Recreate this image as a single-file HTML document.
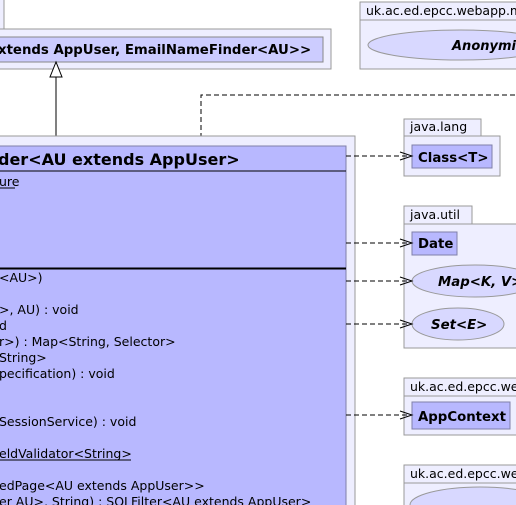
<!DOCTYPE html>
<html><head><style>body{margin:0;background:#fff}svg{display:block}</style></head><body>
<svg width="516" height="505" xmlns="http://www.w3.org/2000/svg" font-family="DejaVu Sans, Liberation Sans, sans-serif">
<rect x="-5" y="-5" width="9" height="34" fill="#eeeeff" stroke="#999"/>
<rect x="-5" y="29" width="336" height="40" fill="#eeeeff" stroke="#999"/>
<rect x="-5" y="37" width="328" height="25" fill="#ccccff" stroke="#888"/>
<text x="-2" y="54" font-size="13.3" font-weight="bold" fill="#000">xtends AppUser, EmailNameFinder&lt;AU&gt;&gt;</text>
<line x1="56" y1="77" x2="56" y2="146" stroke="#000"/>
<polygon points="56,62 50,77 62,77" fill="#fff" stroke="#000"/>
<polyline points="201,146 201,95 516,95" fill="none" stroke="#000" stroke-dasharray="5,3"/>
<rect x="-5" y="136" width="360" height="375" fill="#eeeeff" stroke="#999"/>
<rect x="-5" y="146" width="351" height="365" fill="#b8b8ff" stroke="#8080a8"/>
<text x="-2" y="165" font-size="16" font-weight="bold">der&lt;AU extends AppUser&gt;</text>
<line x1="-5" y1="171" x2="346" y2="171" stroke="#000"/>
<text x="-1" y="186" font-size="12.5">ure</text>
<line x1="-1" y1="188" x2="15" y2="188" stroke="#000"/>
<line x1="-5" y1="268.5" x2="346" y2="268.5" stroke="#000" stroke-width="2"/>
<g font-size="12.5" fill="#000">
<text x="-1" y="282">&lt;AU&gt;)</text>
<text x="-1" y="314">&gt;, AU) : void</text>
<text x="-1" y="330">d</text>
<text x="-1" y="346">r&gt;) : Map&lt;String, Selector&gt;</text>
<text x="-1" y="362">String&gt;</text>
<text x="-1" y="378">pecification) : void</text>
<text x="-1" y="426">SessionService) : void</text>
<text x="-1" y="458">eldValidator&lt;String&gt;</text>
<text x="-1" y="490">edPage&lt;AU extends AppUser&gt;&gt;</text>
<text x="-1" y="506">er AU&gt;, String) : SQLFilter&lt;AU extends AppUser&gt;</text>
</g>
<line x1="-1" y1="460" x2="131" y2="460" stroke="#000"/>
<rect x="360" y="2" width="170" height="18" fill="#eeeeff" stroke="#999"/>
<rect x="360" y="20" width="170" height="49" fill="#eeeeff" stroke="#999"/>
<text x="366" y="15" font-size="12.5">uk.ac.ed.epcc.webapp.m</text>
<ellipse cx="460" cy="45" rx="92" ry="15" fill="#d8d8ff" stroke="#999"/>
<text x="452" y="50" font-size="13" font-weight="bold" font-style="italic">Anonymi</text>
<rect x="404" y="119" width="77" height="17" fill="#eeeeff" stroke="#999"/>
<rect x="404" y="136" width="96" height="40" fill="#eeeeff" stroke="#999"/>
<text x="410" y="131" font-size="12.5">java.lang</text>
<rect x="412" y="145" width="80" height="23" fill="#b8b8ff" stroke="#8080a8"/>
<text x="418" y="162" font-size="13.3" font-weight="bold">Class&lt;T&gt;</text>
<rect x="404" y="206" width="68" height="18" fill="#eeeeff" stroke="#999"/>
<rect x="404" y="224" width="130" height="124" fill="#eeeeff" stroke="#999"/>
<text x="410" y="219" font-size="12.5">java.util</text>
<rect x="412" y="232" width="45" height="23" fill="#b8b8ff" stroke="#8080a8"/>
<text x="418" y="248" font-size="13.3" font-weight="bold">Date</text>
<ellipse cx="475" cy="281" rx="63" ry="16" fill="#d8d8ff" stroke="#999"/>
<text x="438" y="286" font-size="13.3" font-weight="bold" font-style="italic">Map&lt;K, V&gt;</text>
<ellipse cx="458" cy="324" rx="46" ry="16" fill="#d8d8ff" stroke="#999"/>
<text x="431" y="329" font-size="13.3" font-weight="bold" font-style="italic">Set&lt;E&gt;</text>
<rect x="404" y="378" width="130" height="18" fill="#eeeeff" stroke="#999"/>
<rect x="404" y="396" width="130" height="39" fill="#eeeeff" stroke="#999"/>
<text x="410" y="391" font-size="12.5">uk.ac.ed.epcc.we</text>
<rect x="412" y="402" width="98" height="27" fill="#b8b8ff" stroke="#8080a8"/>
<text x="418" y="421" font-size="13.3" font-weight="bold">AppContext</text>
<rect x="404" y="465" width="130" height="18" fill="#eeeeff" stroke="#999"/>
<rect x="404" y="483" width="130" height="30" fill="#eeeeff" stroke="#999"/>
<text x="410" y="478" font-size="12.5">uk.ac.ed.epcc.we</text>
<ellipse cx="480" cy="505" rx="70" ry="18" fill="#d8d8ff" stroke="#999"/>
<g stroke="#000" fill="none">
<g stroke-dasharray="5,3">
<line x1="346" y1="156" x2="410" y2="156"/>
<line x1="346" y1="243" x2="410" y2="243"/>
<line x1="346" y1="281" x2="410" y2="281"/>
<line x1="346" y1="324" x2="410" y2="324"/>
<line x1="346" y1="415" x2="410" y2="415"/>
</g>
<polyline points="400,152 412,156 400,160"/>
<polyline points="400,239 412,243 400,247"/>
<polyline points="400,277 412,281 400,285"/>
<polyline points="400,320 412,324 400,328"/>
<polyline points="400,411 412,415 400,419"/>
</g>
</svg>
</body></html>
